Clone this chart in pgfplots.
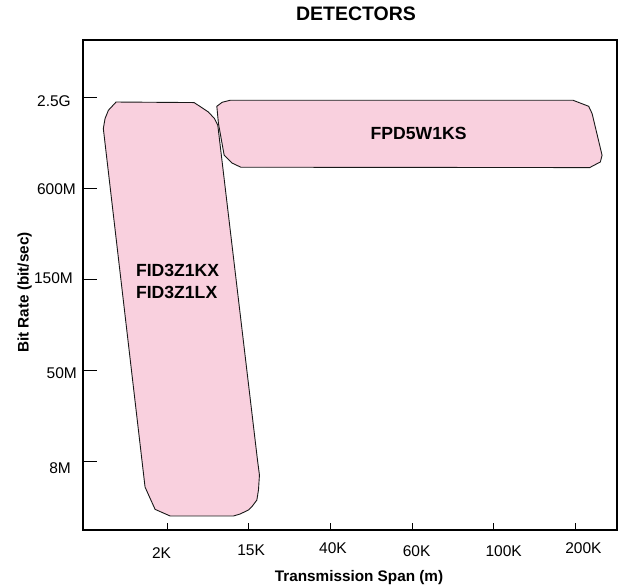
\documentclass[border=0pt]{standalone}
\usepackage{pgfplots}
\pgfplotsset{compat=1.18}
\usepackage{fontspec}
\setmainfont{Liberation Sans}
\definecolor{pinkfill}{RGB}{249,208,222}
\newcommand{\xl}[3]{\raisebox{#2}{\makebox[0pt]{\hspace*{#1}\hspace*{#1}#3}}}
\newcommand{\yl}[3]{\raisebox{-#2}{#3\hspace*{#1}}}
\begin{document}
\begin{tikzpicture}
\begin{axis}[name=ax, scale only axis, width=534bp, height=490bp,
  xmin=-0.03, xmax=6.51, ymin=0.242, ymax=5.63,
  xtick={1,2,3,4,5,6},
  xticklabels={\xl{-5.6bp}{-1.7bp}{2K},\xl{2.4bp}{1bp}{15K},\xl{2.6bp}{3bp}{40K},\xl{4.6bp}{0bp}{60K},\xl{10bp}{0bp}{100K},\xl{8bp}{3.3bp}{200K}},
  ytick={1,2,3,4,5},
  yticklabels={\yl{6bp}{7bp}{8M},\yl{0bp}{3.3bp}{50M},\yl{4bp}{-1bp}{150M},\yl{1bp}{0.3bp}{600M},\yl{6bp}{4bp}{2.5G}},
  tick align=inside, xtick pos=bottom, ytick pos=left,
  axis line style={line width=2.2bp},
  xtick style={/pgfplots/major tick length=7bp, line width=0.9bp, black},
  ytick style={/pgfplots/major tick length=14bp, line width=0.9bp, black},
  tick label style={font=\fontsize{15.5bp}{18bp}\selectfont, inner sep=0pt},
  xticklabel style={anchor=base, yshift=-26.5bp},
  yticklabel style={anchor=base east, xshift=-6bp, yshift=-5.5bp},
  title={DETECTORS},
  title style={at={(0.5112,1.0278)}, anchor=base, inner sep=0pt, font=\bfseries\fontsize{19.5bp}{22bp}\selectfont},
  xlabel={Transmission Span (m)},
  xlabel style={at={(0.5169,-0.1057)}, anchor=base, inner sep=0pt, font=\bfseries\fontsize{15.3bp}{18bp}\selectfont},
  ylabel={Bit Rate (bit/sec)},
  ylabel style={at={(-0.102,0.4847)}, anchor=base, inner sep=0pt, font=\bfseries\fontsize{15.3bp}{18bp}\selectfont},
]
% FID3Z1KX / FID3Z1LX region
\addplot[fill=pinkfill, draw=black!90, line width=0.9bp] coordinates {
  (0.375,4.948) (1.331,4.942) (1.506,4.838) (1.580,4.766) (1.621,4.692)
  (2.078,1.231) (2.107,1.011) (2.131,0.846) (2.119,0.681) (2.099,0.571)
  (2.038,0.498) (1.996,0.462) (1.895,0.418) (1.813,0.396) (1.037,0.396)
  (0.853,0.469) (0.792,0.590) (0.730,0.714) (0.219,4.656) (0.240,4.766)
  (0.281,4.857)
} -- cycle;
% FPD5W1KS region
\addplot[fill=pinkfill, draw=black!90, line width=0.9bp] coordinates {
  (1.772,4.967) (5.972,4.967) (6.163,4.901) (6.205,4.821) (6.327,4.363)
  (6.306,4.289) (6.175,4.227) (1.903,4.231) (1.793,4.278) (1.699,4.363)
  (1.629,4.711) (1.609,4.901) (1.674,4.945)
} -- cycle;
\node[font=\bfseries\fontsize{17.6bp}{21bp}\selectfont] at (axis cs:4.080,4.601) {FPD5W1KS};
\node[align=left, font=\bfseries\fontsize{17.6bp}{22bp}\selectfont] at (axis cs:1.129,2.970) {FID3Z1KX\\FID3Z1LX};
\end{axis}
\pgfresetboundingbox
\path ([shift={(-83bp,-55bp)}]ax.south west) rectangle ([shift={(3bp,40bp)}]ax.north east);
\end{tikzpicture}
\end{document}
